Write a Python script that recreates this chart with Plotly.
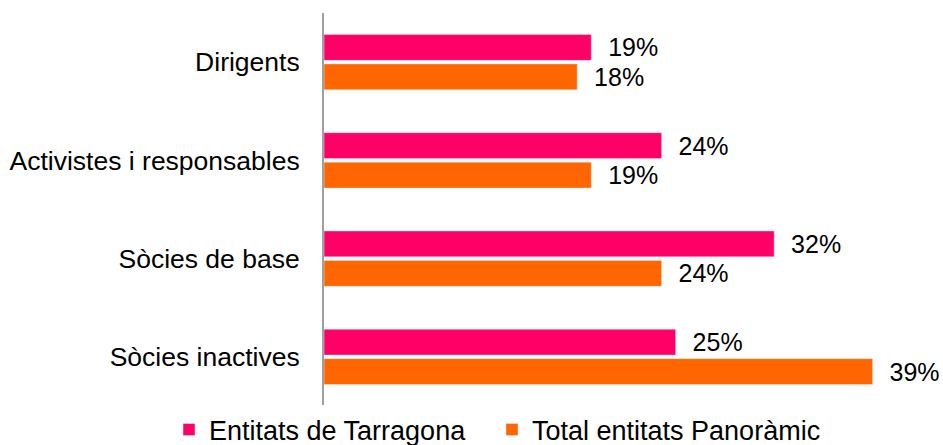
import plotly.graph_objects as go

categories = ["Dirigents", "Activistes i responsables", "Sòcies de base", "Sòcies inactives"]
tarragona = [0.19, 0.24, 0.32, 0.25]
panoramic = [0.18, 0.19, 0.24, 0.39]

font_family = "Liberation Sans, Arial, sans-serif"
pad = "\u00a0\u00a0"

fig = go.Figure()
fig.add_trace(go.Bar(
    y=categories, x=tarragona, orientation="h",
    name="Entitats de Tarragona",
    marker_color="#FF0066",
    text=[pad + f"{v:.0%}" for v in tarragona],
    textposition="outside",
    constraintext="none",
    textfont=dict(size=25, color="#000000"),
    cliponaxis=False,
    legend="legend",
))
fig.add_trace(go.Bar(
    y=categories, x=panoramic, orientation="h",
    name="Total entitats Panoràmic",
    marker_color="#FF6600",
    text=[pad + f"{v:.0%}" for v in panoramic],
    textposition="outside",
    constraintext="none",
    textfont=dict(size=25, color="#000000"),
    cliponaxis=False,
    legend="legend2",
))

legend_style = dict(orientation="h", xanchor="left", yanchor="middle", y=-0.061,
                    font=dict(size=27), itemwidth=30)

fig.update_layout(
    width=943, height=445,
    margin=dict(l=324, r=0, t=13, b=39, autoexpand=False),
    barmode="group",
    bargap=0.40,
    bargroupgap=0.12,
    plot_bgcolor="white",
    paper_bgcolor="white",
    font=dict(family=font_family, size=25, color="#000000"),
    showlegend=True,
    legend=dict(x=-0.2504, **legend_style),
    legend2=dict(x=0.2714, **legend_style),
    uniformtext=dict(mode=False),
)
fig.update_xaxes(range=[0, 0.44], visible=False, showgrid=False)
fig.update_yaxes(
    autorange="reversed", automargin=False,
    showline=True, linecolor="#A0A0A0", linewidth=2,
    showgrid=False, ticks="", ticklabelstandoff=17,
    tickfont=dict(size=26.5),
)

# drop the default body margin so the figure fills the window exactly
fig.write_html(
    "out.html",
    config={"displayModeBar": False},
    post_script="document.body.style.margin='0';document.body.style.overflow='hidden';",
)
